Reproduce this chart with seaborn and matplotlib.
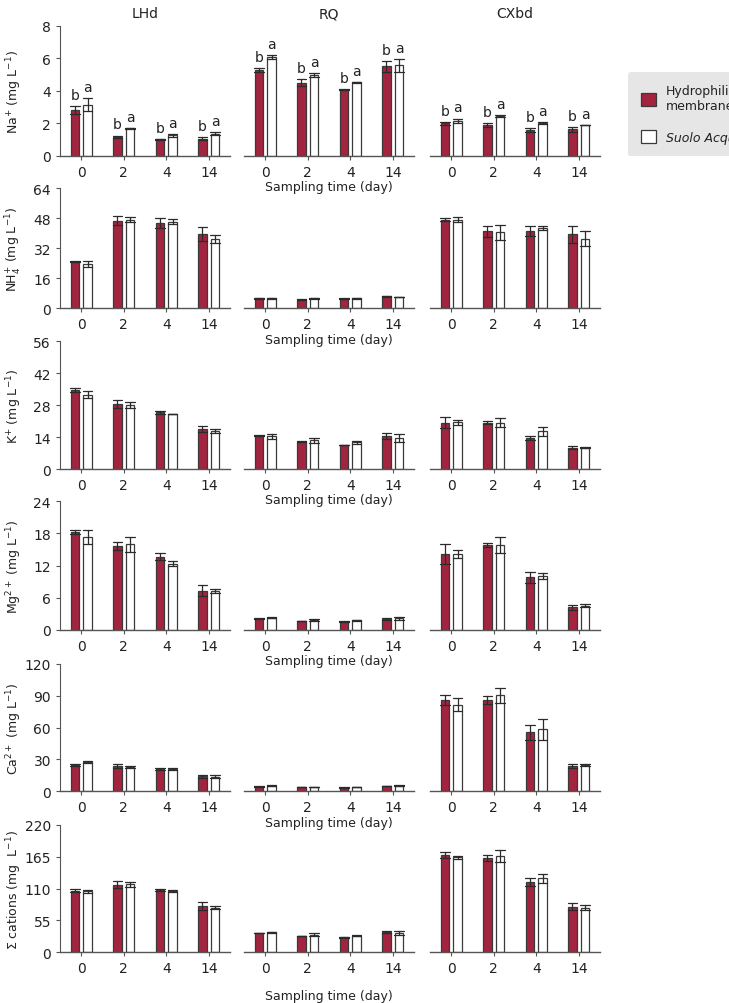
import pandas as pd
import seaborn as sns
import matplotlib.pyplot as plt
from matplotlib.patches import Patch

# sites and sampling days (order LHd, RQ, CXbd x days 0, 2, 4, 14)
sites = ['LHd', 'RQ', 'CXbd']
days = ['0', '2', '4', '14']
treatments = ['Hydrophilic\nmembrane', 'Suolo Acqua']

# Na+
na_h = [2.81, 1.19, 1.03, 1.07, 5.29, 4.51, 4.06, 5.50, 2.00, 1.90, 1.60, 1.64]
na_h_sd = [0.25, 0.06, 0.03, 0.10, 0.12, 0.20, 0.03, 0.35, 0.08, 0.12, 0.12, 0.15]
na_s = [3.16, 1.70, 1.27, 1.37, 6.09, 4.98, 4.53, 5.56, 2.15, 2.45, 2.04, 1.90]
na_s_sd = [0.40, 0.02, 0.10, 0.10, 0.12, 0.12, 0.02, 0.40, 0.15, 0.05, 0.05, 0.02]
# NH4+
nh4_h = [24.9, 46.8, 45.5, 39.6, 5.3, 4.6, 5.0, 6.4, 47.1, 41.1, 41.2, 39.5]
nh4_h_sd = [0.4, 2.5, 2.5, 3.5, 0.3, 0.3, 0.3, 0.3, 0.8, 3.0, 2.5, 4.5]
nh4_s = [23.6, 47.3, 46.2, 37.0, 5.3, 5.3, 5.3, 5.9, 47.3, 40.5, 42.7, 37.0]
nh4_s_sd = [1.5, 1.2, 1.5, 2.0, 0.3, 0.3, 0.4, 0.05, 1.2, 4.0, 1.2, 4.0]
# K+
k_h = [34.6, 28.4, 24.9, 17.4, 14.5, 12.0, 10.5, 14.5, 20.3, 20.3, 13.7, 9.4]
k_h_sd = [0.8, 1.8, 0.6, 1.3, 0.2, 0.1, 0.1, 1.4, 2.5, 0.7, 0.8, 0.5]
k_s = [32.5, 28.2, 24.0, 16.7, 14.3, 12.7, 11.7, 13.6, 20.5, 20.2, 16.5, 9.4]
k_s_sd = [1.5, 1.3, 0.05, 0.8, 1.1, 1.1, 0.6, 1.8, 1.0, 2.0, 2.0, 0.2]
# Mg2+
mg_h = [18.3, 15.7, 13.7, 7.3, 2.1, 1.7, 1.55, 2.05, 14.2, 15.9, 9.8, 4.2]
mg_h_sd = [0.4, 0.8, 0.6, 1.0, 0.05, 0.05, 0.05, 0.1, 1.9, 0.4, 1.0, 0.4]
mg_s = [17.3, 16.0, 12.4, 7.3, 2.3, 1.9, 1.8, 2.2, 14.2, 15.9, 10.1, 4.5]
mg_s_sd = [1.3, 1.4, 0.5, 0.4, 0.05, 0.15, 0.05, 0.3, 0.8, 1.5, 0.5, 0.3]
# Ca2+
ca_h = [25.2, 23.6, 21.1, 14.2, 4.4, 3.8, 3.5, 5.0, 86.0, 86.0, 55.7, 24.2]
ca_h_sd = [1.0, 2.0, 1.0, 1.5, 0.3, 0.2, 0.2, 0.3, 4.5, 3.5, 7.0, 2.0]
ca_s = [27.7, 23.0, 20.8, 13.8, 5.3, 4.1, 4.1, 5.3, 81.8, 90.5, 58.5, 25.2]
ca_s_sd = [1.0, 1.2, 0.8, 1.5, 0.2, 0.1, 0.1, 0.5, 6.0, 7.0, 10.0, 1.0]
# sum of cations
tot_h = [106.6, 116.6, 107.9, 79.8, 33.0, 28.2, 25.9, 34.6, 168.0, 163.0, 121.0, 78.9]
tot_h_sd = [2.0, 6.0, 2.0, 7.0, 0.5, 0.5, 0.5, 2.0, 5.0, 5.0, 7.0, 6.0]
tot_s = [105.4, 117.2, 106.2, 77.0, 34.6, 30.5, 28.8, 33.4, 164.0, 166.5, 128.0, 77.2]
tot_s_sd = [2.5, 4.0, 1.5, 3.0, 1.0, 2.0, 1.0, 3.0, 3.0, 11.0, 8.0, 4.0]

# significance letters (Na+ only)
na_sig_h = ['b'] * 12
na_sig_s = ['a'] * 12

ylabels = [r'Na$^{+}$ (mg L$^{-1}$)', r'NH$_4^{+}$ (mg L$^{-1}$)', r'K$^{+}$ (mg L$^{-1}$)',
           r'Mg$^{2+}$ (mg L$^{-1}$)', r'Ca$^{2+}$ (mg L$^{-1}$)', r'$\Sigma$ cations (mg  L$^{-1}$)']
yticks = [[0, 2, 4, 6, 8], [0, 16, 32, 48, 64], [0, 14, 28, 42, 56],
          [0, 6, 12, 18, 24], [0, 30, 60, 90, 120], [0, 55, 110, 165, 220]]

ions = [(na_h, na_h_sd, na_s, na_s_sd), (nh4_h, nh4_h_sd, nh4_s, nh4_s_sd),
        (k_h, k_h_sd, k_s, k_s_sd), (mg_h, mg_h_sd, mg_s, mg_s_sd),
        (ca_h, ca_h_sd, ca_s, ca_s_sd), (tot_h, tot_h_sd, tot_s, tot_s_sd)]

red = '#a3243f'
edge = '#3a3a3a'
palette = {treatments[0]: red, treatments[1]: 'white'}

sns.set_style('ticks')
plt.rcParams['font.family'] = ['DejaVu Sans']
plt.rcParams['mathtext.default'] = 'regular'
plt.rcParams['axes.edgecolor'] = '#555555'
plt.rcParams['xtick.color'] = '#555555'
plt.rcParams['ytick.color'] = '#555555'
plt.rcParams['xtick.labelcolor'] = '#222222'
plt.rcParams['ytick.labelcolor'] = '#222222'

W, H = 729, 1004
fig = plt.figure(figsize=(W / 100, H / 100), dpi=100)

col_x = [60, 244, 430]
col_w = 170
rows_px = [(26.7, 157), (189.3, 309.3), (342.3, 470), (502.3, 631), (665, 792.3), (826, 953.3)]

for r, (vh, eh, vs, es) in enumerate(ions):
    top, bot = rows_px[r]
    for c, site in enumerate(sites):
        ax = fig.add_axes([col_x[c] / W, 1 - bot / H, col_w / W, (bot - top) / H])
        ax.patch.set_alpha(0)
        # two points per bar (mean - sd, mean + sd): the mean is the bar, min/max the error bar
        recs = []
        for d, day in enumerate(days):
            i = c * 4 + d
            for t, (v, e) in enumerate([(vh[i], eh[i]), (vs[i], es[i])]):
                recs.append((day, treatments[t], v - e))
                recs.append((day, treatments[t], v + e))
        df = pd.DataFrame(recs, columns=['day', 'treatment', 'value'])
        sns.barplot(data=df, x='day', y='value', hue='treatment', order=days,
                    hue_order=treatments, palette=palette, saturation=1,
                    width=0.6, gap=0.35, errorbar=lambda x: (x.min(), x.max()),
                    capsize=0.45, err_kws={'color': '#2b2b2b', 'linewidth': 0.9},
                    edgecolor=edge, linewidth=0.9, legend=False, ax=ax)
        ax.set_ylim(0, yticks[r][-1])
        ax.set_xlim(-0.5, 3.5)
        ax.set_yticks(yticks[r])
        ax.tick_params(axis='both', labelsize=10, length=3, width=0.8)
        sns.despine(ax=ax, left=(c != 0))
        ax.spines['bottom'].set_linewidth(1.0)
        if c == 0:
            ax.set_ylabel(ylabels[r], fontsize=9, color='#222222')
            ax.yaxis.set_label_coords(-0.21, 0.5)
        else:
            ax.set_ylabel('')
            ax.tick_params(axis='y', left=False, labelleft=False)
        if c == 1:
            ax.set_xlabel('Sampling time (day)', fontsize=9, color='#222222',
                          labelpad=10 if r == 5 else 1)
        else:
            ax.set_xlabel('')
        if r == 0:
            ax.set_title(site, fontsize=10, color='#222222', pad=6)
            # letters above error bars
            for t, (vals, errs, sig) in enumerate([(vh, eh, na_sig_h), (vs, es, na_sig_s)]):
                for d, bar in enumerate(ax.containers[t]):
                    i = c * 4 + d
                    ax.annotate(sig[i], (bar.get_x() + bar.get_width() / 2, vals[i] + errs[i]),
                                xytext=(0, 3), textcoords='offset points',
                                ha='center', va='bottom', fontsize=10, color='#222222')

handles = [Patch(facecolor=red, edgecolor=edge, linewidth=0.9),
           Patch(facecolor='white', edgecolor=edge, linewidth=0.9)]
leg = fig.legend(handles, treatments, loc='upper left', bbox_to_anchor=(628 / W, 1 - 73 / H),
                 borderaxespad=0, frameon=True, facecolor='#e6e6e6', edgecolor='none',
                 framealpha=1, fontsize=9, handlelength=1.2, handleheight=1.2,
                 handletextpad=0.8, labelspacing=1.4, borderpad=1.0)
leg.get_texts()[1].set_style('italic')
for txt in leg.get_texts():
    txt.set_color('#222222')

fig.savefig('out.png', dpi=100)
